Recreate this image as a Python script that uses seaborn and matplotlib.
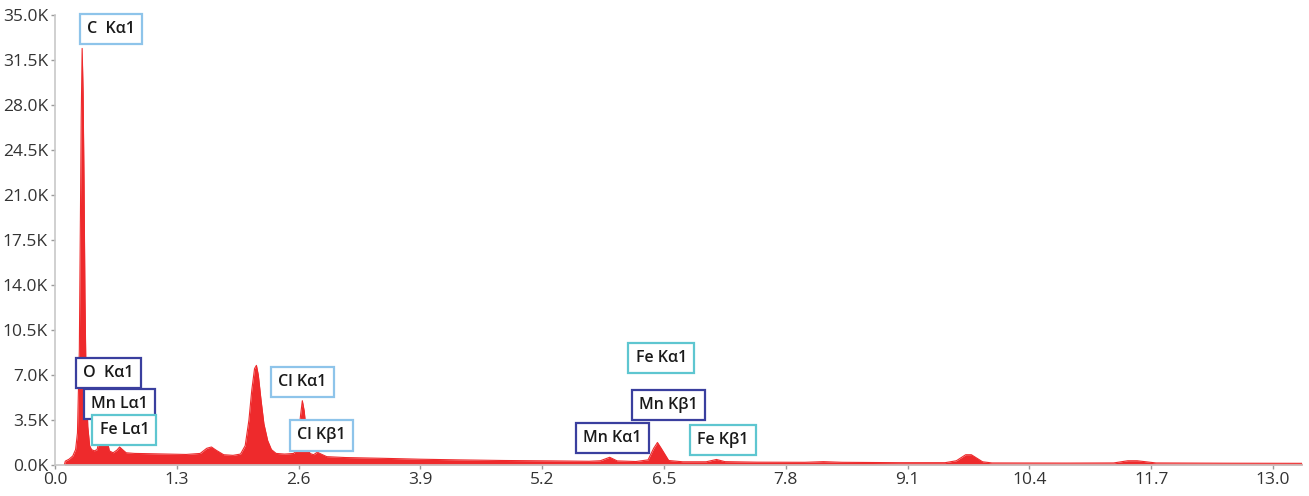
import numpy as np
import pandas as pd
import seaborn as sns
import matplotlib.pyplot as plt
from matplotlib.ticker import FuncFormatter, MultipleLocator

# EDS spectrum (keV, counts)
energy = [0.10, 0.11, 0.15, 0.19, 0.22, 0.24, 0.26, 0.27, 0.28, 0.29, 0.30, 0.31, 0.32, 0.33,
          0.35, 0.37, 0.39, 0.42, 0.45, 0.48, 0.50, 0.515, 0.53, 0.55, 0.58, 0.62, 0.66, 0.69,
          0.72, 0.76, 0.85, 1.00, 1.20, 1.40, 1.55, 1.62, 1.67, 1.72, 1.80, 1.90, 1.98, 2.03,
          2.07, 2.10, 2.13, 2.15, 2.17, 2.20, 2.23, 2.27, 2.31, 2.36, 2.45, 2.55, 2.59, 2.62,
          2.64, 2.66, 2.69, 2.72, 2.76, 2.80, 2.84, 2.90, 3.10, 3.50, 3.90, 4.30, 4.80, 5.30,
          5.70, 5.82, 5.92, 6.00, 6.20, 6.33, 6.39, 6.43, 6.47, 6.55, 6.70, 6.95, 7.06, 7.15,
          7.50, 8.00, 8.20, 8.40, 9.00, 9.50, 9.62, 9.72, 9.78, 9.90, 10.00, 10.80, 11.30, 11.45,
          11.55, 11.75, 12.50, 13.31]
counts = [0, 300, 450, 700, 1200, 2500, 9000, 18000, 27000, 32400, 29000, 22000, 13000, 7500,
          3000, 1500, 1200, 1100, 1200, 2200, 4500, 5700, 4800, 2200, 1100, 950, 1150, 1400,
          1200, 950, 900, 880, 850, 820, 900, 1300, 1400, 1150, 800, 750, 850, 1500,
          3500, 5800, 7500, 7750, 7000, 5000, 3200, 1900, 1200, 900, 850, 900, 1500, 3800,
          5000, 4200, 2000, 900, 800, 1000, 850, 650, 580, 520, 450, 400, 350, 320,
          290, 330, 600, 320, 270, 400, 1300, 1750, 1300, 350, 250, 250, 430, 260,
          220, 210, 260, 210, 180, 180, 330, 800, 800, 250, 160, 150, 160, 330,
          330, 160, 140, 130]

# peak labels: text, energy, counts, colour group
peak_labels = ["C  K\u03b11", "O  K\u03b11", "Mn L\u03b11", "Fe L\u03b11", "Cl K\u03b11",
               "Cl K\u03b21", "Mn K\u03b11", "Mn K\u03b21", "Fe K\u03b11", "Fe K\u03b21"]
label_x = [0.60, 0.57, 0.69, 0.74, 2.64, 2.84, 5.95, 6.55, 6.47, 7.13]
label_y = [33900, 7150, 4750, 2700, 6450, 2300, 2100, 4650, 8300, 1950]
label_group = ["light", "navy", "navy", "cyan", "light", "light", "navy", "navy", "cyan", "cyan"]

box_colors = {"navy": "#3a3f9e", "cyan": "#5ec6d0", "light": "#8ec4ea"}
red = "#ee2a2c"

sns.set_style("white")
plt.rcParams['font.family'] = ['Open Sans', 'DejaVu Sans']

df = pd.DataFrame({"energy": energy, "counts": counts})

fig = plt.figure(figsize=(13.09, 4.96), dpi=100)
ax = fig.add_axes([0.042, 0.0625, 0.9527, 0.9073])

ax.fill_between(df["energy"], 0, df["counts"], color=red, linewidth=0)
sns.lineplot(data=df, x="energy", y="counts", ax=ax, color=red, linewidth=0.8)

for txt, x, y, g in zip(peak_labels, label_x, label_y, label_group):
    ax.text(x, y, txt, ha="center", va="center", fontsize=11.5, fontweight="semibold",
            color="#1a1a1a", zorder=5, clip_on=False,
            bbox=dict(boxstyle="square,pad=0.45", facecolor="white",
                      edgecolor=box_colors[g], linewidth=1.6))

ax.set_xlim(0, 13.31)
ax.set_ylim(0, 35000)
ax.xaxis.set_major_locator(MultipleLocator(1.3))
ax.yaxis.set_major_locator(MultipleLocator(3500))
ax.xaxis.set_major_formatter(FuncFormatter(lambda v, p: f"{v:.1f}"))
ax.yaxis.set_major_formatter(FuncFormatter(lambda v, p: f"{v/1000:.1f}K"))
ax.set_xlabel("")
ax.set_ylabel("")

for s in ["top", "right"]:
    ax.spines[s].set_visible(False)
for s in ["left", "bottom"]:
    ax.spines[s].set_color("#c8c8c8")
    ax.spines[s].set_linewidth(1.2)

ax.tick_params(axis="both", which="major", length=3, width=1, color="#9a9a9a",
               labelsize=12.5, labelcolor="#333333", pad=2, direction="out", bottom=True, left=True)

fig.savefig("out.png", dpi=100)
plt.close()
